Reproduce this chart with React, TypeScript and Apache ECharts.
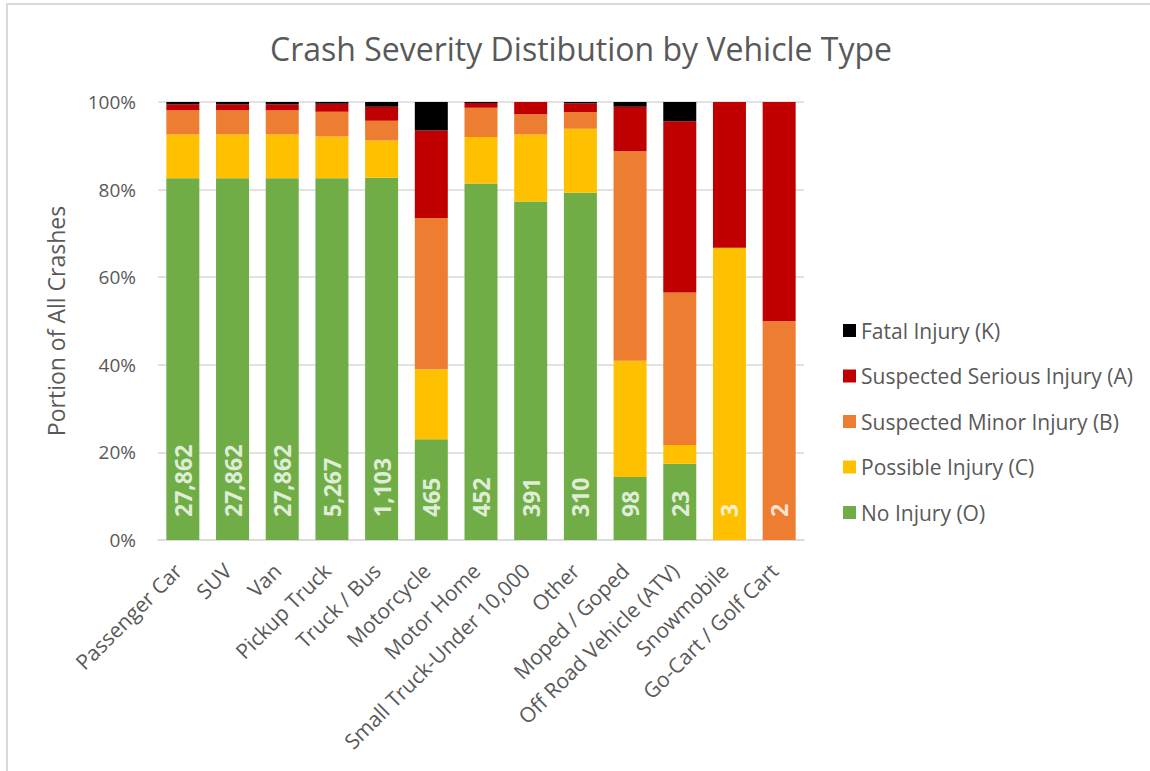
import React, { useEffect, useRef } from "react";
import * as echarts from "echarts";

const categories = [
  "Passenger Car",
  "SUV",
  "Van",
  "Pickup Truck",
  "Truck / Bus",
  "Motorcycle",
  "Motor Home",
  "Small Truck-Under 10,000",
  "Other",
  "Moped / Goped",
  "Off Road Vehicle (ATV)",
  "Snowmobile",
  "Go-Cart / Golf Cart",
];

const noInjury = [82.6, 82.6, 82.6, 82.6, 82.7, 23.0, 81.4, 77.3, 79.3, 14.4, 17.4, 0, 0];
const possibleInjury = [10.0, 10.0, 10.0, 9.5, 8.5, 16.0, 10.6, 15.3, 14.6, 26.5, 4.3, 66.7, 0];
const minorInjury = [5.5, 5.5, 5.5, 5.7, 4.5, 34.5, 6.7, 4.6, 3.8, 47.9, 34.8, 0, 50];
const seriousInjury = [1.4, 1.4, 1.4, 1.8, 3.2, 20.0, 1.1, 2.8, 2.0, 10.1, 39.1, 33.3, 50];
const fatalInjury = [0.5, 0.5, 0.5, 0.4, 1.1, 6.5, 0.2, 0, 0.3, 1.1, 4.4, 0, 0];

const crashCounts = [27862, 27862, 27862, 5267, 1103, 465, 452, 391, 310, 98, 23, 3, 2];

const yTicks = [0, 20, 40, 60, 80, 100];

const seriesNames = [
  "No Injury (O)",
  "Possible Injury (C)",
  "Suspected Minor Injury (B)",
  "Suspected Serious Injury (A)",
  "Fatal Injury (K)",
];
const seriesColors = ["#70AD47", "#FFC000", "#ED7D31", "#C00000", "#000000"];

const FONT = "'Open Sans', Lato, sans-serif";
const TEXT = "#595959";

export default function App() {
  const ref = useRef<HTMLDivElement>(null);

  useEffect(() => {
    if (!ref.current) return;
    const chart = echarts.init(ref.current, undefined, { renderer: "svg" });
    const values = [noInjury, possibleInjury, minorInjury, seriousInjury, fatalInjury];

    const barSeries = values.map((arr, i) => ({
      name: seriesNames[i],
      type: "bar",
      stack: "total",
      data: arr,
      barWidth: 33,
      itemStyle: { color: seriesColors[i] },
      emphasis: { disabled: true },
    }));

    chart.setOption({
      animation: false,
      textStyle: { fontFamily: FONT },
      title: {
        text: "Crash Severity Distibution by Vehicle Type",
        left: 265,
        top: 27,
        textStyle: { fontFamily: FONT, fontSize: 32, fontWeight: "normal", color: TEXT },
      },
      graphic: [
        {
          type: "rect",
          shape: { x: 7, y: 4, width: 1170, height: 800 },
          style: { fill: "none", stroke: "#d9d9d9", lineWidth: 2 },
          silent: true,
        },
      ],
      legend: {
        orient: "vertical",
        left: 843,
        top: 320,
        padding: 0,
        itemWidth: 13,
        itemHeight: 13,
        itemGap: 24.5,
        icon: "rect",
        data: [...seriesNames].reverse(),
        textStyle: { fontFamily: FONT, fontSize: 21, color: TEXT, lineHeight: 21 },
        selectedMode: false,
      },
      grid: { left: 158, right: 346, top: 102, bottom: 231, containLabel: false },
      xAxis: {
        type: "category",
        data: categories,
        axisLine: { show: true, lineStyle: { color: "#d9d9d9", width: 1.5 } },
        axisTick: { show: false },
        axisLabel: {
          interval: 0,
          rotate: 45,
          margin: 22,
          verticalAlign: "middle",
          padding: [0, 7, 0, 0],
          fontFamily: FONT,
          fontSize: 21,
          color: TEXT,
        },
      },
      yAxis: {
        type: "value",
        min: yTicks[0],
        max: yTicks[yTicks.length - 1],
        interval: 20,
        name: "Portion of All Crashes",
        nameLocation: "middle",
        nameGap: 91,
        nameTextStyle: { fontFamily: FONT, fontSize: 23, color: TEXT },
        axisLine: { show: false },
        axisTick: { show: false },
        splitLine: { lineStyle: { color: "#d9d9d9", width: 1.5 } },
        axisLabel: {
          margin: 22,
          formatter: "{value}%",
          fontFamily: FONT,
          fontSize: 19,
          color: TEXT,
        },
      },
      series: [
        ...barSeries,
        {
          name: "counts",
          type: "scatter",
          data: crashCounts.map(() => 0),
          symbolSize: 1,
          itemStyle: { color: "transparent" },
          silent: true,
          z: 10,
          label: {
            show: true,
            position: "inside",
            rotate: 90,
            align: "left",
            verticalAlign: "middle",
            padding: [0, 0, 0, 23],
            fontFamily: FONT,
            fontSize: 23,
            fontWeight: "bold",
            color: "#ffffff",
            formatter: (p: any) => crashCounts[p.dataIndex].toLocaleString("en-US"),
          },
        },
      ],
    });

    return () => chart.dispose();
  }, []);

  return (
    <div
      ref={ref}
      style={{ position: "fixed", left: 0, top: 0, width: 1150, height: 771, background: "#fff" }}
    />
  );
}
